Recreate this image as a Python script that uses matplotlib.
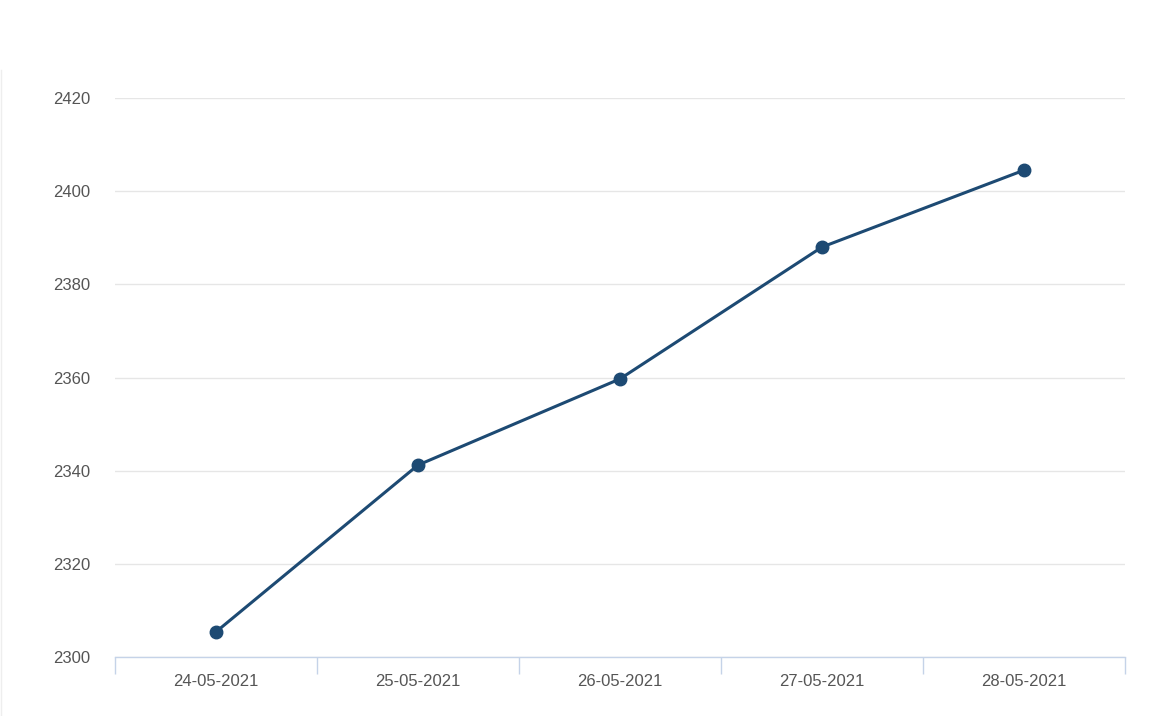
import matplotlib.pyplot as plt
from matplotlib.lines import Line2D

dates = ['24-05-2021', '25-05-2021', '26-05-2021', '27-05-2021', '28-05-2021']
values = [2305.4, 2341.2, 2359.7, 2388.0, 2404.5]
y_ticks = [2300, 2320, 2340, 2360, 2380, 2400, 2420]

plt.rcParams['font.family'] = ['Liberation Sans', 'DejaVu Sans']

fig = plt.figure(figsize=(11.58, 7.16), dpi=100)
ax = fig.add_axes([115 / 1158, 59 / 716, 1010 / 1158, 559 / 716])

x = list(range(len(dates)))
ax.plot(x, values, color='#1d4a73', lw=2.2, marker='o', ms=9, zorder=3)

ax.set_xlim(-0.5, len(dates) - 0.5)
ax.set_ylim(y_ticks[0], y_ticks[-1])
ax.set_yticks(y_ticks)
ax.set_yticklabels([str(v) for v in y_ticks])
ax.yaxis.grid(True, color='#e6e6e6', lw=1)
ax.set_axisbelow(True)

# category labels at centers, tick marks at boundaries
ax.set_xticks(x)
ax.set_xticklabels(dates)
ax.set_xticks([i - 0.5 for i in range(len(dates) + 1)], minor=True)
ax.tick_params(axis='x', which='major', length=0, pad=12, labelsize=12, labelcolor='#555555')
ax.tick_params(axis='x', which='minor', length=12, width=1, color='#c5d3e8', direction='out')
ax.tick_params(axis='y', length=0, pad=18, labelsize=12, labelcolor='#555555')

for s in ['top', 'right', 'left']:
    ax.spines[s].set_visible(False)
ax.spines['bottom'].set_color('#c5d3e8')
ax.spines['bottom'].set_linewidth(1)

# faint border at the left edge
fig.add_artist(Line2D([1 / 1158, 1 / 1158], [0, 646 / 716], color='#eeeeee', lw=1))

fig.savefig('out.png', dpi=100)
